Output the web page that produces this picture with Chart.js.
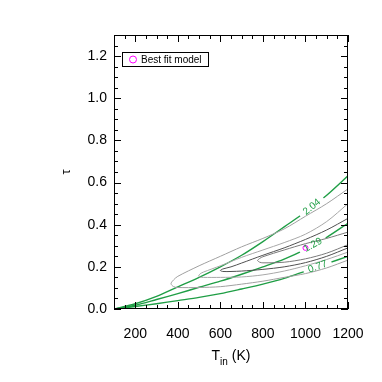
<!DOCTYPE html>
<html>
<head>
<meta charset="utf-8">
<script src="https://cdn.jsdelivr.net/npm/chart.js@4.4.1/dist/chart.umd.min.js"></script>
<style>
  html, body { margin: 0; padding: 0; background: #fff; }
  #grafico { display: block; }
</style>
</head>
<body>
<canvas id="grafico" width="382" height="382"></canvas>
<script>
// ticks dos eixos
const xTicks = [200, 400, 600, 800, 1000, 1200];
const yTicks = [0.0, 0.2, 0.4, 0.6, 0.8, 1.0, 1.2];

// curvas verdes (niveis 2.04, 1.29, 0.77)
const tIn = [100, 200, 300, 400, 500, 600, 700, 800, 900, 1000, 1100, 1200];
const tau204 = [0, 0.025, 0.06, 0.105, 0.15, 0.2, 0.255, 0.32, 0.39, 0.46, 0.54, 0.632];
const tau129 = [0, 0.018, 0.045, 0.073, 0.103, 0.132, 0.165, 0.2, 0.237, 0.283, 0.34, 0.407];
const tau077 = [0, 0.012, 0.025, 0.04, 0.055, 0.073, 0.095, 0.118, 0.145, 0.18, 0.215, 0.25];
const nivelTexto = ['2.04', '1.29', '0.77'];
const nivelPosT = [1030, 1035, 1057];

// contornos cinza (do mais externo ao mais interno)
const c4T = [1200, 1100, 1000, 900, 800, 700, 600, 500, 400, 380, 368, 380, 400, 500, 600, 700, 800, 900, 1000, 1100, 1200];
const c4Tau = [0.57, 0.5, 0.44, 0.38, 0.335, 0.295, 0.25, 0.205, 0.155, 0.138, 0.12, 0.106, 0.102, 0.102, 0.106, 0.118, 0.132, 0.15, 0.168, 0.195, 0.232];
const c3T = [1200, 1100, 1000, 900, 800, 700, 600, 520, 505, 498, 505, 520, 600, 700, 800, 900, 1000, 1100, 1200];
const c3Tau = [0.5, 0.415, 0.355, 0.315, 0.28, 0.245, 0.205, 0.175, 0.167, 0.157, 0.151, 0.15, 0.15, 0.152, 0.162, 0.18, 0.205, 0.235, 0.27];
const c2T = [1200, 1100, 1000, 900, 800, 700, 650, 612, 600, 612, 650, 700, 800, 900, 1000, 1100, 1200];
const c2Tau = [0.43, 0.375, 0.33, 0.29, 0.255, 0.218, 0.2, 0.19, 0.183, 0.178, 0.178, 0.18, 0.188, 0.2, 0.22, 0.25, 0.29];
const c1T = [1200, 1100, 1000, 900, 800, 785, 775, 785, 800, 900, 1000, 1100, 1200];
const c1Tau = [0.365, 0.335, 0.31, 0.28, 0.248, 0.24, 0.23, 0.222, 0.219, 0.222, 0.238, 0.265, 0.305];

// melhor ajuste
const bestT = [1000];
const bestTau = [0.29];

const VERDE = '#1f9e45';
const MAGENTA = '#ff00ff';
const FONTE = '"Liberation Sans", Arial, sans-serif';

function pares(xs, ys) {
    return xs.map((x, i) => ({ x: x, y: ys[i] }));
}

function interp(xs, ys, v) {
    for (let i = 0; i < xs.length - 1; i++) {
        if (v >= xs[i] && v <= xs[i + 1]) {
            const f = (v - xs[i]) / (xs[i + 1] - xs[i]);
            return ys[i] + f * (ys[i + 1] - ys[i]);
        }
    }
    return ys[ys.length - 1];
}

function linhaVerde(ys, idx) {
    return {
        label: nivelTexto[idx],
        data: pares(tIn, ys),
        showLine: true,
        pointRadius: 0,
        borderColor: VERDE,
        borderWidth: 1.4,
        tension: 0.3,
        order: 2,
        nivel: { tau: ys, t: nivelPosT[idx], texto: nivelTexto[idx] }
    };
}

function contorno(xs, ys, cor) {
    return {
        label: 'contorno',
        data: pares(xs, ys),
        showLine: true,
        pointRadius: 0,
        borderColor: cor,
        borderWidth: 1,
        tension: 0.3,
        order: 1
    };
}

function posRotulo(chart, nv) {
    const x = chart.scales.x, y = chart.scales.y;
    const px = x.getPixelForValue(nv.t);
    const py = y.getPixelForValue(interp(tIn, nv.tau, nv.t));
    const ax = x.getPixelForValue(nv.t - 30), ay = y.getPixelForValue(interp(tIn, nv.tau, nv.t - 30));
    const bx = x.getPixelForValue(nv.t + 30), by = y.getPixelForValue(interp(tIn, nv.tau, nv.t + 30));
    return { px, py, ang: Math.atan2(by - ay, bx - ax) };
}

// rotulos das curvas verdes com "buraco" na linha
const rotulos = {
    id: 'rotulos',
    afterDatasetDraw(chart, args) {
        const nv = chart.data.datasets[args.index].nivel;
        if (!nv) return;
        const ctx = chart.ctx;
        const p = posRotulo(chart, nv);
        ctx.save();
        ctx.font = '10px ' + FONTE;
        const w = ctx.measureText(nv.texto).width;
        ctx.translate(p.px, p.py);
        ctx.rotate(p.ang);
        ctx.fillStyle = '#fff';
        ctx.fillRect(-w / 2 - 5, -4, w + 10, 8);
        ctx.restore();
    },
    afterDatasetsDraw(chart) {
        const ctx = chart.ctx;
        chart.data.datasets.forEach(ds => {
            if (!ds.nivel) return;
            const p = posRotulo(chart, ds.nivel);
            ctx.save();
            ctx.font = '10px ' + FONTE;
            ctx.fillStyle = VERDE;
            ctx.textAlign = 'center';
            ctx.textBaseline = 'middle';
            ctx.translate(p.px, p.py);
            ctx.rotate(p.ang);
            ctx.fillText(ds.nivel.texto, 0, 0);
            ctx.restore();
        });
    }
};

// moldura, ticks para dentro, titulos e legenda
const moldura = {
    id: 'moldura',
    afterDraw(chart) {
        const ctx = chart.ctx;
        const a = chart.chartArea;
        const x = chart.scales.x, y = chart.scales.y;
        ctx.save();
        ctx.strokeStyle = '#000';
        ctx.lineWidth = 1;
        ctx.strokeRect(a.left + 0.5, a.top + 0.5, a.right - a.left - 1, a.bottom - a.top - 1);
        ctx.beginPath();
        for (let v = 100; v <= 1200; v += 50) {
            const px = Math.round(x.getPixelForValue(v)) + 0.5;
            const len = v % 200 === 0 ? 7 : 4;
            ctx.moveTo(px, a.bottom); ctx.lineTo(px, a.bottom - len);
            ctx.moveTo(px, a.top); ctx.lineTo(px, a.top + len);
        }
        for (let i = 0; i <= 26; i++) {
            const py = Math.round(y.getPixelForValue(i * 0.05)) + 0.5;
            const len = i % 4 === 0 ? 7 : 4;
            ctx.moveTo(a.left, py); ctx.lineTo(a.left + len, py);
            ctx.moveTo(a.right, py); ctx.lineTo(a.right - len, py);
        }
        ctx.stroke();

        // titulo x: T_in (K)
        ctx.fillStyle = '#000';
        ctx.textBaseline = 'alphabetic';
        ctx.textAlign = 'left';
        const fG = '14px ' + FONTE;
        const fP = '10px ' + FONTE;
        ctx.font = fG; const wT = ctx.measureText('T').width; const wK = ctx.measureText(' (K)').width;
        ctx.font = fP; const wI = ctx.measureText('in').width;
        let xx = (a.left + a.right) / 2 - (wT + wI + wK) / 2;
        ctx.font = fG; ctx.fillText('T', xx, 360); xx += wT;
        ctx.font = fP; ctx.fillText('in', xx, 365); xx += wI;
        ctx.font = fG; ctx.fillText(' (K)', xx, 360);

        // titulo y: tau
        ctx.save();
        ctx.translate(66, (a.top + a.bottom) / 2);
        ctx.rotate(-Math.PI / 2);
        ctx.textAlign = 'center';
        ctx.textBaseline = 'middle';
        ctx.font = '13px ' + FONTE;
        ctx.fillText('τ', 0, 0);
        ctx.restore();

        // legenda
        const best = chart.data.datasets.find(d => d.melhor);
        ctx.strokeStyle = '#000';
        ctx.strokeRect(122.5, 52.5, 86, 14);
        ctx.strokeStyle = MAGENTA;
        ctx.beginPath();
        ctx.arc(133, 59.5, 3.5, 0, Math.PI * 2);
        ctx.stroke();
        ctx.fillStyle = '#000';
        ctx.font = '10px ' + FONTE;
        ctx.textBaseline = 'middle';
        ctx.textAlign = 'left';
        ctx.fillText(best.label, 141, 60);
        ctx.restore();
    }
};

const grafico = document.getElementById('grafico');
new Chart(grafico, {
    type: 'scatter',
    data: {
        datasets: [
            {
                label: 'Best fit model',
                data: pares(bestT, bestTau),
                pointStyle: 'circle',
                pointRadius: 2.5,
                pointBorderWidth: 1,
                pointBorderColor: MAGENTA,
                pointBackgroundColor: 'rgba(0,0,0,0)',
                showLine: false,
                order: 0,
                melhor: true
            },
            contorno(c4T, c4Tau, '#a0a0a0'),
            contorno(c3T, c3Tau, '#a8a8a8'),
            contorno(c2T, c2Tau, '#505050'),
            contorno(c1T, c1Tau, '#7a7a7a'),
            linhaVerde(tau204, 0),
            linhaVerde(tau129, 1),
            linhaVerde(tau077, 2)
        ]
    },
    options: {
        responsive: false,
        animation: false,
        devicePixelRatio: 1,
        layout: { padding: { left: 0, right: 34, top: 35, bottom: 0 } },
        plugins: {
            legend: { display: false },
            tooltip: { enabled: false }
        },
        scales: {
            x: {
                type: 'linear',
                min: 100,
                max: 1200,
                afterBuildTicks: s => { s.ticks = xTicks.map(v => ({ value: v })); },
                afterFit: s => { s.height = 73; },
                grid: { display: false, drawTicks: false },
                border: { display: false },
                ticks: {
                    autoSkip: false,
                    maxRotation: 0,
                    padding: 17,
                    color: '#000',
                    callback: v => String(v),
                    font: { family: FONTE, size: 14 }
                }
            },
            y: {
                type: 'linear',
                min: 0,
                max: 1.3,
                afterBuildTicks: s => { s.ticks = yTicks.map(v => ({ value: v })); },
                afterFit: s => { s.width = 114; },
                grid: { display: false, drawTicks: false },
                border: { display: false },
                ticks: {
                    padding: 7,
                    color: '#000',
                    callback: v => v.toFixed(1),
                    font: { family: FONTE, size: 14 }
                }
            }
        }
    },
    plugins: [rotulos, moldura]
});
</script>
</body>
</html>
